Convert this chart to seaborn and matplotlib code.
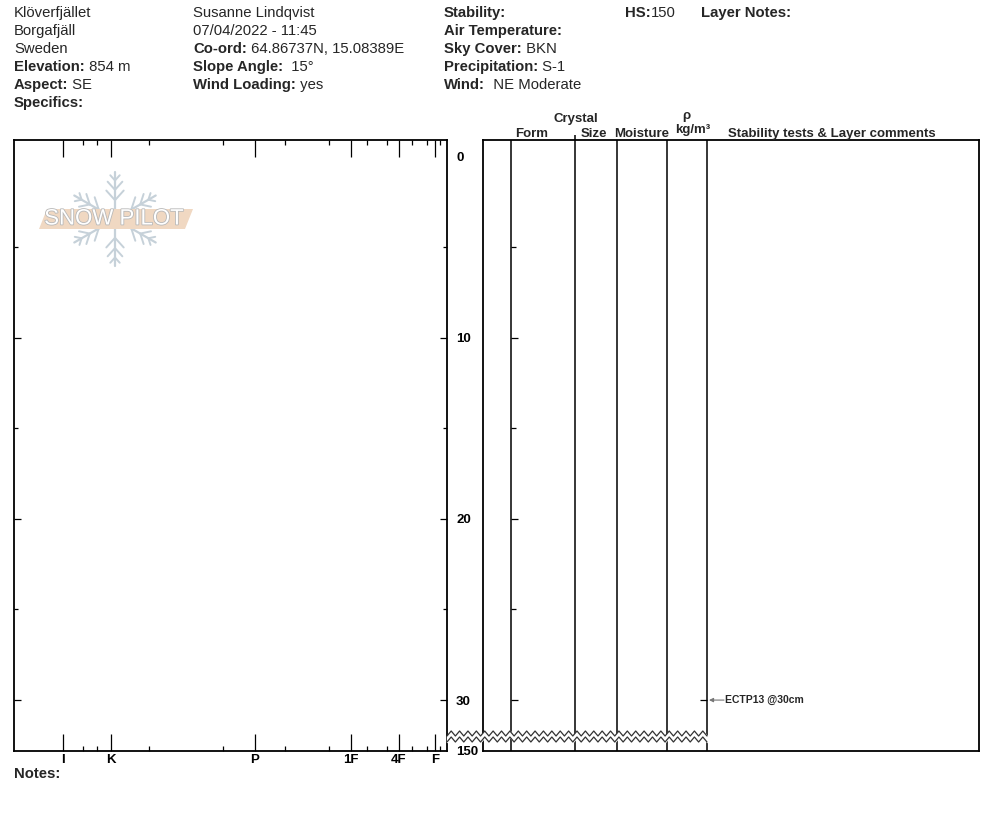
import numpy as np
import pandas as pd
import seaborn as sns
import matplotlib.pyplot as plt
import matplotlib.patheffects as pe
from matplotlib.patches import Polygon

# cabecera del perfil
col1 = [("", "Klöverfjället"), ("", "Borgafjäll"), ("", "Sweden"),
        ("Elevation:", " 854 m"), ("Aspect:", " SE"), ("Specifics:", "")]
col2 = [("", "Susanne Lindqvist"), ("", "07/04/2022 - 11:45"),
        ("Co-ord:", " 64.86737N, 15.08389E"), ("Slope Angle:", "  15°"),
        ("Wind Loading:", " yes")]
col3 = [("Stability:", ""), ("Air Temperature:", ""), ("Sky Cover:", " BKN"),
        ("Precipitation:", " S-1"), ("Wind:", "  NE Moderate")]
hs_value = "150"

# escala de dureza (posicion en el eje)
hard_labels = ["I", "K", "P", "1F", "4F", "F"]
hard_pos = [49, 97, 241, 337, 385, 421]
hard_minor = [69, 83, 135, 209, 271, 315, 353, 373, 398, 413, 426]

# profundidad (cm)
depth_major = [0, 10, 20, 30]
depth_minor = [5, 15, 25]
depth_top = -0.905
depth_bottom = 32.81
hs_label = "150"

# columnas del panel derecho
col_edges = [28, 92, 134, 184, 224]

# tests de estabilidad
tests = ["ECTP13 @30cm"]
test_depth = [30]

sns.set_theme(style="white")
plt.rcParams['font.family'] = ['Liberation Sans', 'DejaVu Sans']

W, H = 994, 840
fig = plt.figure(figsize=(W / 100, H / 100), dpi=100)
fig.patch.set_facecolor('white')

def px_axes(x0, y0, x1, y1):
    return fig.add_axes([x0 / W, 1 - y1 / H, (x1 - x0) / W, (y1 - y0) / H])

# ---- panel izquierdo (dureza) ----
ax = px_axes(14, 140, 447, 751)
ax.set_xlim(0, 433)
ax.set_ylim(depth_bottom, depth_top)
for s in ax.spines.values():
    s.set_color('black')
    s.set_linewidth(1.3)
    s.set_visible(True)

ax.set_xticks(hard_pos)
ax.set_xticklabels(hard_labels, fontweight='bold', fontsize=9.5)
ax.set_xticks(hard_minor, minor=True)
ax.tick_params(axis='x', which='major', direction='in', length=12.2, width=0.9,
               top=True, bottom=True, labelbottom=True, labeltop=False, pad=2.5, colors='black')
ax.tick_params(axis='x', which='minor', direction='in', length=3.6, width=0.9,
               top=True, bottom=True, colors='black')

yt = depth_major + [depth_bottom]
ax.set_yticks(yt)
ax.set_yticklabels([str(d) for d in depth_major] + [hs_label], fontweight='bold', fontsize=9.5)
ax.set_yticks(depth_minor, minor=True)
ax.tick_params(axis='y', which='major', direction='in', length=5, width=0.9,
               left=True, right=True, labelleft=False, labelright=True, pad=6.5, colors='black')
ax.tick_params(axis='y', which='minor', direction='in', length=2.9, width=0.9,
               left=True, right=True, colors='black')
for i, t in enumerate(ax.yaxis.get_major_ticks()):
    if i == 0 or i == len(yt) - 1:
        t.tick1line.set_visible(False)
        t.tick2line.set_visible(False)

# ---- panel derecho (capas) ----
axr = px_axes(483, 140, 979, 751)
axr.set_xlim(0, 496)
axr.set_ylim(depth_bottom, depth_top)
axr.set_xticks([])
axr.set_yticks([])
for s in axr.spines.values():
    s.set_color('black')
    s.set_linewidth(1.3)
    s.set_visible(True)
for c in col_edges:
    top = depth_top - 0.28 if c == 92 else depth_top
    axr.vlines(c, top, depth_bottom, color='black', lw=1.1, clip_on=False)
axr.hlines(depth_major[1:], 28, 35, color='black', lw=0.9)
axr.hlines(depth_minor, 28, 33, color='black', lw=0.9)
for t, d in zip(tests, test_depth):
    axr.hlines(d, 217, 224, color='black', lw=0.9)
    axr.annotate("", xy=(226, d), xytext=(241, d),
                 arrowprops=dict(arrowstyle='-|>', color='#777777', lw=0.8,
                                 mutation_scale=6, shrinkA=0, shrinkB=0))
    axr.text(242, d, t, fontsize=7.5, fontweight='bold', va='center', ha='left')

# ---- capa superpuesta en pixeles ----
ov = fig.add_axes([0, 0, 1, 1])
ov.set_xlim(0, W)
ov.set_ylim(H, 0)
ov.axis('off')
ov.set_zorder(10)
ov.patch.set_visible(False)

def header(x, rows, y0=17, dy=18):
    for i, (lab, val) in enumerate(rows):
        y = y0 + dy * i
        if lab:
            t = ov.text(x, y, lab, fontsize=10.7, fontweight='bold', va='baseline')
            if val:
                ov.annotate(val, xy=(1, 0), xycoords=t, fontsize=10.7, va='bottom', ha='left')
        else:
            ov.text(x, y, val, fontsize=10.7, va='baseline')

header(14, col1)
header(193, col2)
header(444, col3)
t = ov.text(625, 17, "HS:", fontsize=10.7, fontweight='bold', va='baseline')
ov.annotate(hs_value, xy=(1, 0), xycoords=t, fontsize=10.7, va='bottom', ha='left')
ov.text(701, 17, "Layer Notes:", fontsize=10.7, fontweight='bold', va='baseline')

hk = dict(fontsize=9.5, fontweight='bold', ha='center', va='baseline')
ov.text(532, 137, "Form", **hk)
ov.text(576, 122, "Crystal", **hk)
ov.text(594, 137, "Size", **hk)
ov.text(642, 137, "Moisture", **hk)
ov.text(686, 119, "ρ", **hk)
ov.text(693, 133, "kg/m³", **hk)
ov.text(832, 137, "Stability tests & Layer comments", **hk)
ov.text(14, 778, "Notes:", fontsize=10.7, fontweight='bold', va='baseline')

# corte en zigzag
zx = np.linspace(447, 707, 63)
zy = np.where(np.arange(len(zx)) % 2 == 0, 736, 731)
ov.fill_between(zx, zy, zy + 6, color='white', zorder=2)
ov.plot(zx, zy, color='#333333', lw=0.9, zorder=3)
ov.plot(zx, zy + 6, color='#333333', lw=0.9, zorder=3)

# logo snow pilot
cx, cy, L = 115, 219, 47
flake = '#c6d1d9'
for ang in [90, 30, -30, -90, 150, 210]:
    a = np.radians(ang)
    ux, uy = np.cos(a), -np.sin(a)
    ov.plot([cx, cx + L * ux], [cy, cy + L * uy], color=flake, lw=1.6, zorder=4)
    for f, bl in [(0.4, 13), (0.62, 11), (0.82, 7)]:
        px, py = cx + f * L * ux, cy + f * L * uy
        for side in [1, -1]:
            b = a + side * np.radians(42)
            ov.plot([px, px + bl * np.cos(b)], [py, py - bl * np.sin(b)],
                    color=flake, lw=1.4, zorder=4)
ov.add_patch(Polygon([(39, 229), (47, 209), (193, 209), (185, 229)],
                     closed=True, facecolor='#f0d8c2', edgecolor='none', zorder=5))
ov.text(114, 219, "SNOW PILOT", fontsize=16, color='white', ha='center', va='center',
        zorder=6, path_effects=[pe.withStroke(linewidth=1.2, foreground='#b8b8b8')])

fig.savefig('out.png', dpi=100, facecolor='white')
